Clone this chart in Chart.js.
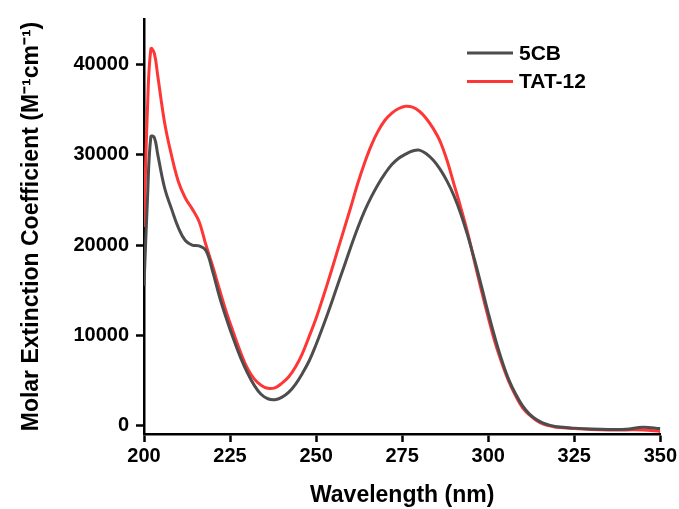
<!DOCTYPE html>
<html>
<head>
<meta charset="utf-8">
<script src="https://cdn.jsdelivr.net/npm/chart.js@4"></script>
<style>
  body { margin: 0; background: #fff; }
  #wrap { width: 679px; height: 509px; }
</style>
</head>
<body>
<div id="wrap"><canvas id="uv" width="679" height="509"></canvas></div>
<script>
// wavelengths (nm)
const wavelength = [200, 201, 202, 203, 204, 206, 208, 210, 212, 214, 216, 218, 220, 222, 224, 226, 228, 230,
  232, 234, 236, 238, 240, 242, 244, 246, 248, 250, 252, 254, 256, 258, 260, 262, 264, 266, 268, 270,
  272, 274, 276, 278, 280, 282, 284, 286, 288, 290, 292, 294, 296, 298, 300, 302, 304, 306, 308, 310,
  312, 314, 316, 318, 320, 325, 330, 335, 340, 345, 350];

// molar extinction coefficient, 5CB
const eps5CB = [15500, 25000, 32000, 31900, 30000, 26300, 24000, 21900, 20500, 20000, 19900, 19400, 17000, 14200, 11800, 9600, 7600, 5900,
  4500, 3500, 3000, 2900, 3150, 3700, 4600, 5800, 7200, 9000, 11000, 13100, 15300, 17500, 19700, 21800, 23700, 25300, 26700, 27900,
  28900, 29600, 30050, 30400, 30500, 30100, 29400, 28400, 27100, 25500, 23500, 21100, 18400, 15500, 12500, 9700, 7200, 5100, 3500, 2200,
  1300, 700, 300, 50, -100, -250, -350, -400, -380, -150, -300];

// molar extinction coefficient, TAT-12
const epsTAT12 = [22000, 35000, 41700, 41200, 38700, 33500, 29900, 27000, 25200, 24000, 22600, 20000, 17600, 15000, 12500, 10300, 8200, 6400,
  5200, 4500, 4150, 4200, 4700, 5400, 6500, 8000, 9900, 11900, 14200, 16600, 19100, 21600, 24100, 26700, 29000, 31000, 32600, 33800,
  34600, 35100, 35350, 35250, 34800, 34000, 32900, 31500, 29400, 26800, 24200, 21400, 18200, 15000, 12000, 9200, 6900, 4900, 3300, 2000,
  1200, 600, 200, 0, -150, -300, -400, -450, -450, -450, -620];

const xTicks = [200, 225, 250, 275, 300, 325, 350];
const yTicks = [0, 10000, 20000, 30000, 40000];

const toPoints = (ys) => wavelength.map((w, i) => ({ x: w, y: ys[i] }));

const FONT = '"Liberation Sans", Arial, sans-serif';

// legend drawn inside the plot, top right
const insideLegend = {
  id: 'insideLegend',
  afterDraw(chart) {
    const ctx = chart.ctx;
    ctx.save();
    ctx.font = 'bold 21px ' + FONT;
    ctx.textBaseline = 'middle';
    chart.data.datasets.forEach((ds, i) => {
      const y = 53 + i * 28.5;
      ctx.strokeStyle = ds.borderColor;
      ctx.lineWidth = 3;
      ctx.beginPath();
      ctx.moveTo(467, y);
      ctx.lineTo(513, y);
      ctx.stroke();
      ctx.fillStyle = '#000';
      ctx.fillText(ds.label, 519, y + 1);
    });
    ctx.restore();
  }
};

const axisCommon = {
  grid: { drawOnChartArea: false, drawTicks: true, tickLength: 8, tickColor: '#000', tickWidth: 2.5 },
  border: { display: true, color: '#000', width: 2.5 }
};

new Chart(document.getElementById('uv').getContext('2d'), {
  type: 'line',
  data: {
    datasets: [
      {
        label: '5CB',
        data: toPoints(eps5CB),
        borderColor: '#4d4d4d',
        borderWidth: 3,
        pointRadius: 0,
        tension: 0.4,
        fill: false
      },
      {
        label: 'TAT-12',
        data: toPoints(epsTAT12),
        borderColor: '#ff3636',
        borderWidth: 3,
        pointRadius: 0,
        tension: 0.4,
        fill: false
      }
    ]
  },
  options: {
    responsive: false,
    animation: false,
    layout: { padding: { top: 17, right: 17, left: 0, bottom: 0 } },
    plugins: {
      legend: { display: false },
      tooltip: { enabled: false }
    },
    scales: {
      x: {
        ...axisCommon,
        type: 'linear',
        min: 200,
        max: 350,
        afterBuildTicks: (s) => { s.ticks = xTicks.map(v => ({ value: v })); },
        afterFit: (s) => { s.height = 75; },
        ticks: {
          color: '#000', padding: 2,
          font: { family: FONT, size: 20, weight: 'bold' },
          callback: (v) => String(v)
        },
        title: {
          display: true,
          text: 'Wavelength (nm)',
          color: '#000',
          padding: { top: 0, bottom: 0 },
          font: { family: FONT, size: 23, weight: 'bold' }
        }
      },
      y: {
        ...axisCommon,
        type: 'linear',
        min: -900,
        max: 45000,
        afterBuildTicks: (s) => { s.ticks = yTicks.map(v => ({ value: v })); },
        afterFit: (s) => { s.width = 144; },
        ticks: {
          color: '#000', padding: 7,
          font: { family: FONT, size: 20, weight: 'bold' },
          callback: (v) => String(v)
        },
        title: {
          display: true,
          text: 'Molar Extinction Coefficient (M⁻¹cm⁻¹)',
          color: '#000',
          padding: { top: 18, bottom: 0 },
          font: { family: FONT, size: 23, weight: 'bold' }
        }
      }
    }
  },
  plugins: [insideLegend]
});
</script>
</body>
</html>
